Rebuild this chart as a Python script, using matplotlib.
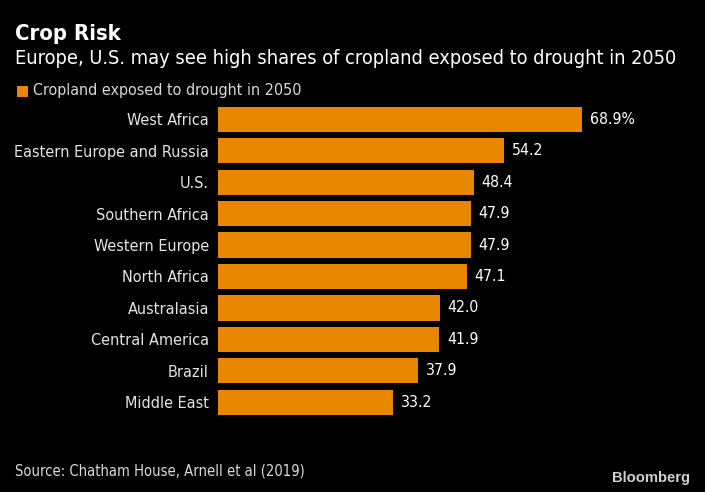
import matplotlib
matplotlib.use('Agg')
import matplotlib.pyplot as plt
from matplotlib.patches import Rectangle

categories = ['West Africa', 'Eastern Europe and Russia', 'U.S.', 'Southern Africa', 'Western Europe',
              'North Africa', 'Australasia', 'Central America', 'Brazil', 'Middle East']
values = [68.9, 54.2, 48.4, 47.9, 47.9, 47.1, 42.0, 41.9, 37.9, 33.2]
labels = ['68.9%', '54.2', '48.4', '47.9', '47.9', '47.1', '42.0', '41.9', '37.9', '33.2']

W, H = 705, 492
ORANGE = '#e98600'
plt.rcParams['font.family'] = ['DejaVu Sans']
plt.rcParams['font.stretch'] = 'condensed'
fig = plt.figure(figsize=(W/100, H/100), dpi=100, facecolor='black')

left, right = 218, 650
top, bottom = 103.5, 418
ax = fig.add_axes([left/W, 1-bottom/H, (right-left)/W, (bottom-top)/H], facecolor='black')
ypos = list(range(len(values)))
ax.barh(ypos, values, height=0.8, color=ORANGE, linewidth=0)
ax.set_ylim(len(values)-0.5, -0.5)
pxperunit = (582-218)/68.9
ax.set_xlim(0, (right-left)/pxperunit)
ax.set_yticks(ypos, categories)
ax.tick_params(axis='y', length=0, pad=6.5, colors='#e4e4e4', labelsize=11.6)
ax.set_xticks([])
for s in ax.spines.values():
    s.set_visible(False)
for y, v, l in zip(ypos, values, labels):
    ax.annotate(l, (v, y), xytext=(5.5, 0), textcoords='offset points', va='center', ha='left',
                color='white', fontsize=11.3)

fig.text(15/W, 1-34/H, 'Crop Risk', color='white', fontsize=15.8, fontweight='bold', va='center')
fig.text(15/W, 1-58/H, 'Europe, U.S. may see high shares of cropland exposed to drought in 2050',
         color='white', fontsize=14.35, va='center')
fig.patches.append(Rectangle((17/W, 1-96.5/H), 11/W, 11/H, transform=fig.transFigure, color=ORANGE, lw=0))
fig.text(33/W, 1-91/H, 'Cropland exposed to drought in 2050', color='#d8d8d8', fontsize=11.5, va='center')
fig.text(15/W, 1-471.5/H, 'Source: Chatham House, Arnell et al (2019)', color='#d8d8d8', fontsize=10.6, va='center')
fig.text(690/W, 1-478/H, 'Bloomberg', color='#d0d0d0', fontsize=10.6, fontweight='bold', va='center', ha='right',
         family='Liberation Sans', stretch='normal')
fig.savefig('out.png', dpi=100, facecolor='black')
